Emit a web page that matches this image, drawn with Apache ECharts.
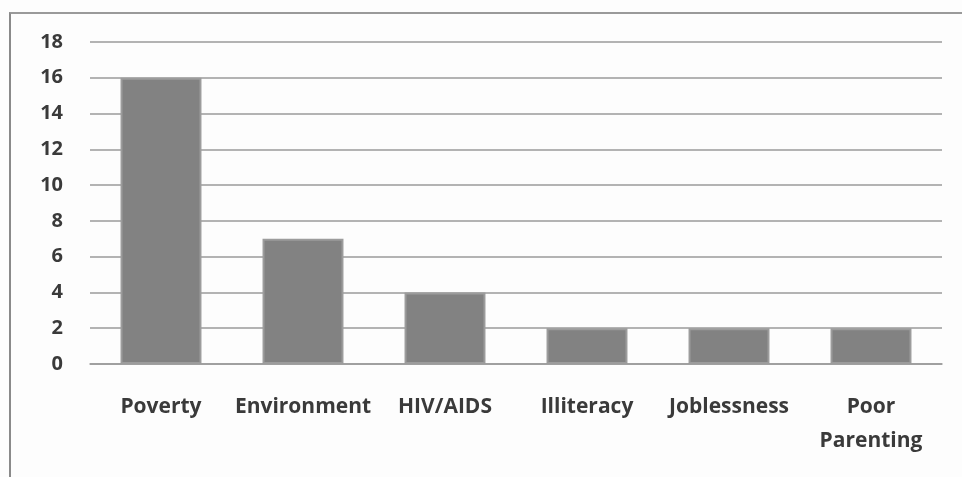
<!DOCTYPE html>
<html>
<head>
<meta charset="utf-8">
<script src="https://cdn.jsdelivr.net/npm/echarts@6/dist/echarts.min.js"></script>
<style>
  html, body { margin: 0; padding: 0; background: #fdfdfd; }
  #frame { position: absolute; left: 9px; top: 12px; width: 960px; height: 470px;
           border-left: 2px solid #8a8a8a; border-top: 2px solid #9a9a9a; box-sizing: border-box; }
  #chart { position: absolute; left: 0; top: 0; width: 962px; height: 477px; }
</style>
</head>
<body>
<div id="frame"></div>
<div id="chart"></div>
<script>
// Causes named and number of responses for each
const categories = ['Poverty', 'Environment', 'HIV/AIDS', 'Illiteracy', 'Joblessness', 'Poor\nParenting'];
const counts = [16, 7, 4, 2, 2, 2];

const chart = echarts.init(document.getElementById('chart'));
chart.setOption({
  animation: false,
  backgroundColor: 'transparent',
  grid: { left: 90, right: 20, top: 42, bottom: 113 },
  xAxis: {
    type: 'category',
    data: categories,
    axisLine: { show: true, lineStyle: { color: '#9a9a9a', width: 1.5 } },
    axisTick: { show: false },
    axisLabel: {
      margin: 26,
      color: '#3a3a3a',
      fontFamily: 'Open Sans',
      fontSize: 21,
      fontWeight: 'bold',
      lineHeight: 34,
      interval: 0
    }
  },
  yAxis: {
    type: 'value',
    min: 0,
    max: 18,
    interval: 2,
    axisLine: { show: false },
    axisTick: { show: false },
    splitLine: { lineStyle: { color: '#9a9a9a', width: 1.5 } },
    axisLabel: {
      margin: 27,
      color: '#3a3a3a',
      fontFamily: 'Open Sans',
      fontSize: 20,
      fontWeight: 'bold'
    }
  },
  series: [{
    type: 'bar',
    data: counts,
    barWidth: '57%',
    itemStyle: { color: '#828282', borderColor: '#9c9c9c', borderWidth: 2 }
  }]
});
</script>
</body>
</html>
